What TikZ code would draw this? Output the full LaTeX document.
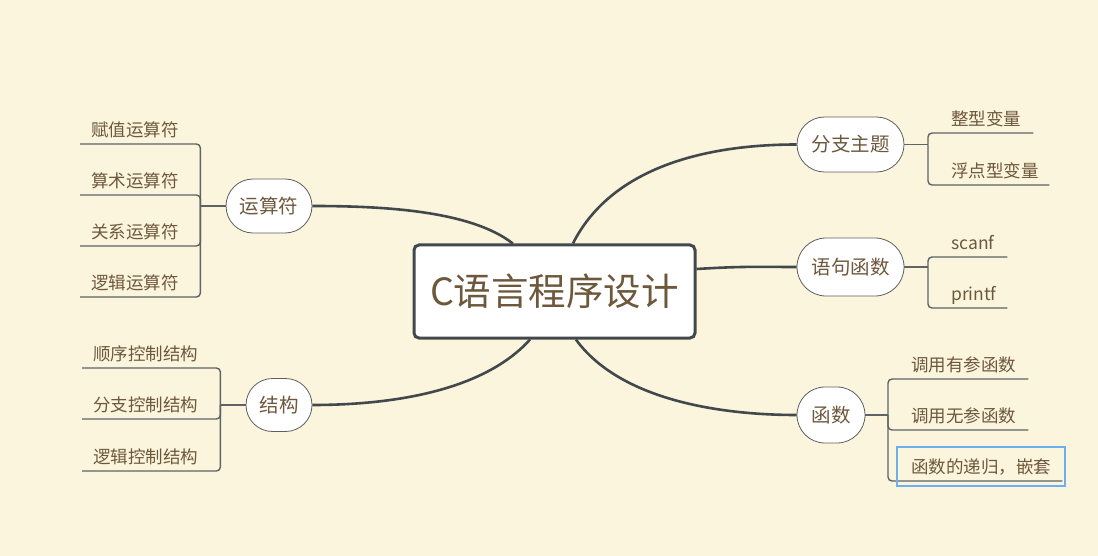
\documentclass[tikz,border=0pt]{standalone}
\usepackage{fontspec}
\setmainfont{Noto Sans CJK SC}
\usetikzlibrary{shapes.misc}
\definecolor{bg}{RGB}{251,245,222}
\definecolor{txt}{RGB}{110,88,60}
\definecolor{ln}{RGB}{66,72,75}
\definecolor{bord}{RGB}{95,95,95}
\definecolor{sel}{RGB}{110,175,240}
\begin{document}
\begin{tikzpicture}[x=1pt,y=-1pt,
 root/.style={draw=ln, line width=3pt, fill=white, rounded corners=5pt, minimum width=281pt, minimum height=93pt, inner sep=0pt, text=txt, font=\fontsize{37.5}{42}\selectfont},
 topic/.style={rounded rectangle, draw=bord, line width=0.8pt, fill=white, inner sep=0pt, text=txt, font=\fontsize{19.5}{22}\selectfont},
 leaf/.style={inner sep=0pt, text=txt, font=\fontsize{17.5}{20}\selectfont, align=left, text height=13pt, text depth=7pt, anchor=south west},
 mainline/.style={draw=ln, line width=2.6pt},
 subline/.style={draw=ln!85, line width=1.4pt, rounded corners=4pt}]
\useasboundingbox (0,0) rectangle (1098,556);
\fill[bg] (0,0) rectangle (1098,556);

% root
\node[root] (c) at (554.5,291.5) {\raisebox{-3pt}{C语言程序设计}};

% topics
\node[topic, minimum width=86pt, minimum height=54pt] (op) at (269,206) {运算符};
\node[topic, minimum width=66pt, minimum height=53pt] (st) at (279,405) {结构};
\node[topic, minimum width=107pt, minimum height=55pt] (br) at (850.5,144.5) {分支主题};
\node[topic, minimum width=107pt, minimum height=58pt] (sf) at (850.5,267) {语句函数};
\node[topic, minimum width=68pt, minimum height=56pt] (fn) at (831,415) {函数};

% main connectors
\draw[mainline] (c.131) .. controls (470,210) and (380,206) .. (op.east);
\draw[mainline] (c.243) .. controls (480,395) and (380,405) .. (st.east);
\draw[mainline] (c.69) .. controls (610,170) and (700,144.5) .. (br.west);
\draw[mainline] (c.9) .. controls (745,266) and (760,267) .. (sf.west);
\draw[mainline] (c.294) .. controls (620,400) and (720,415) .. (fn.west);

% leaves of op
\node[leaf, text width=120pt] (a1) at (80,144) {\hspace*{11pt}赋值运算符};
\node[leaf, text width=120pt] (a2) at (80,195) {\hspace*{11pt}算术运算符};
\node[leaf, text width=120pt] (a3) at (80,246) {\hspace*{11pt}关系运算符};
\node[leaf, text width=120pt] (a4) at (80,297) {\hspace*{11pt}逻辑运算符};
\draw[subline] (op.west) -- (a1.south east |- op.west);
\foreach \n in {a1,a2,a3,a4}
  \draw[subline] (\n.south west) -- (\n.south east) -- (\n.south east |- op.west);

% leaves of st
\node[leaf, text width=138pt] (s1) at (82,368) {\hspace*{11pt}顺序控制结构};
\node[leaf, text width=138pt] (s2) at (82,419) {\hspace*{11pt}分支控制结构};
\node[leaf, text width=138pt] (s3) at (82,471) {\hspace*{11pt}逻辑控制结构};
\draw[subline] (st.west) -- (s1.south east |- st.west);
\foreach \n in {s1,s2,s3}
  \draw[subline] (\n.south west) -- (\n.south east) -- (\n.south east |- st.west);

% leaves of br
\node[leaf, text width=105pt] (b1) at (928,133) {\hspace*{23pt}整型变量};
\node[leaf, text width=121pt] (b2) at (928,185) {\hspace*{23pt}浮点型变量};
\draw[subline] (br.east) -- (b1.south west |- br.east);
\foreach \n in {b1,b2}
  \draw[subline] (\n.south east) -- (\n.south west) -- (\n.south west |- br.east);

% leaves of sf
\node[leaf, text width=79pt] (f1) at (928,257) {\hspace*{23pt}scanf};
\node[leaf, text width=79pt] (f2) at (928,308) {\hspace*{23pt}printf};
\draw[subline] (sf.east) -- (f1.south west |- sf.east);
\foreach \n in {f1,f2}
  \draw[subline] (\n.south east) -- (\n.south west) -- (\n.south west |- sf.east);

% leaves of fn
\node[leaf, text width=140pt] (g1) at (888,379) {\hspace*{23pt}调用有参函数};
\node[leaf, text width=140pt] (g2) at (888,430) {\hspace*{23pt}调用无参函数};
\node[leaf, text width=174pt] (g3) at (888,481) {\hspace*{23pt}函数的递归，嵌套};
\draw[subline] (fn.east) -- (g1.south west |- fn.east);
\foreach \n in {g1,g2,g3}
  \draw[subline] (\n.south east) -- (\n.south west) -- (\n.south west |- fn.east);

% selection frame
\draw[sel, line width=1.8pt] (897,447) rectangle (1065,486);
\end{tikzpicture}
\end{document}
